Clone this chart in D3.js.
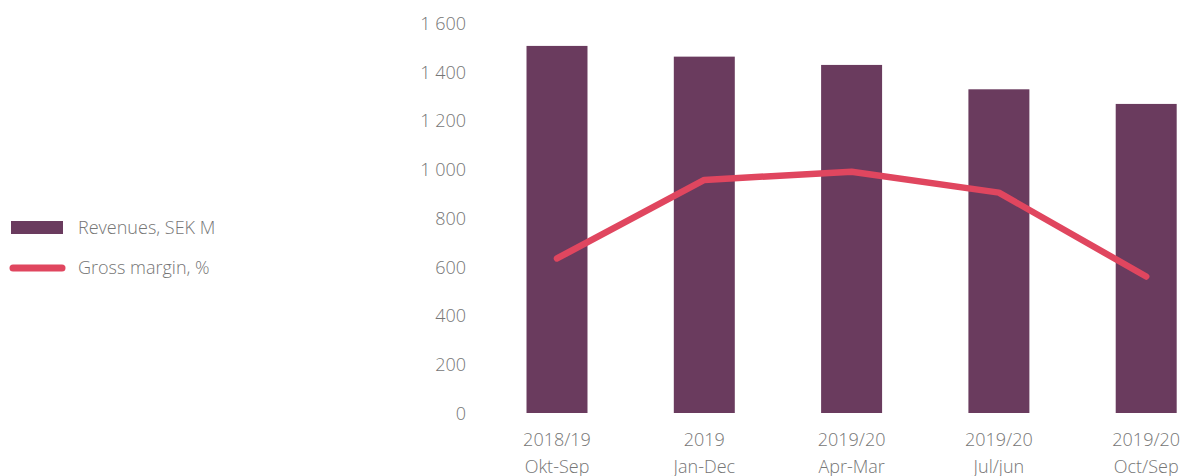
<!DOCTYPE html>
<html>
<head>
<meta charset="utf-8">
<script src="https://cdn.jsdelivr.net/npm/d3@7"></script>
<style>
  html, body { margin: 0; padding: 0; background: #fff; }
  svg { display: block; }
  text { font-family: "Open Sans", sans-serif; font-weight: 300; fill: #767676; }
</style>
</head>
<body>
<svg id="chart" width="1189" height="476"></svg>
<script>
const categories = [["2018/19", "Okt-Sep"], ["2019", "Jan-Dec"], ["2019/20", "Apr-Mar"], ["2019/20", "Jul/jun"], ["2019/20", "Oct/Sep"]];
const revenues = [1506, 1462, 1428, 1328, 1268];
const grossMargin = [31.7, 47.8, 49.5, 45.2, 28.0];
const yTicks = [0, 200, 400, 600, 800, 1000, 1200, 1400, 1600];
const seriesNames = ["Revenues, SEK M", "Gross margin, %"];

const barColor = "#6a3b5e";
const lineColor = "#e0465f";

const svg = d3.select("#chart");
const W = 1189, H = 476;

const keys = categories.map((c, i) => i);
const x = d3.scaleBand().domain(keys).range([483.35, 1219.85]).paddingInner(0.586).paddingOuter(0.293);
const y = d3.scaleLinear().domain([0, 1600]).range([413, 23]);
const y2 = d3.scaleLinear().domain([0, 80]).range([413, 23]);

const locale = d3.formatLocale({ decimal: ",", thousands: " ", grouping: [3], currency: ["", ""] });
const fmt = locale.format(",d");

// Y axis labels (no line, no ticks)
const yAxis = d3.axisLeft(y).tickValues(yTicks).tickFormat(fmt).tickSize(0).tickPadding(0);
const yg = svg.append("g").attr("transform", "translate(466,0)").call(yAxis);
yg.select(".domain").remove();
yg.selectAll("text").attr("font-size", 18).attr("font-family", null).attr("fill", null).attr("dy", "0.35em");

// Bars
svg.append("g").selectAll("rect").data(revenues).join("rect")
  .attr("x", (d, i) => x(i))
  .attr("width", x.bandwidth())
  .attr("y", d => y(d))
  .attr("height", d => y(0) - y(d))
  .attr("fill", barColor);

// Line
const line = d3.line().x((d, i) => x(i) + x.bandwidth() / 2).y(d => y2(d));
svg.append("path").datum(grossMargin)
  .attr("d", line)
  .attr("fill", "none")
  .attr("stroke", lineColor)
  .attr("stroke-width", 6.5)
  .attr("stroke-linecap", "round")
  .attr("stroke-linejoin", "round");

// X axis labels
const xAxis = d3.axisBottom(x).tickSize(0).tickFormat(() => "");
const xg = svg.append("g").attr("transform", "translate(0,413)").call(xAxis);
xg.select(".domain").remove();
xg.selectAll(".tick").each(function(d) {
  const t = d3.select(this).append("text").attr("text-anchor", "middle").attr("font-size", 18);
  t.append("tspan").attr("x", 0).attr("y", 33).text(categories[d][0]);
  t.append("tspan").attr("x", 0).attr("y", 60).text(categories[d][1]);
});

// Legend
const lg = svg.append("g");
lg.append("rect").attr("x", 11).attr("y", 221).attr("width", 52).attr("height", 13).attr("fill", barColor);
lg.append("text").attr("x", 78).attr("y", 228).attr("dy", "0.35em").attr("font-size", 18).text(seriesNames[0]);
lg.append("line").attr("x1", 13).attr("x2", 62).attr("y1", 268).attr("y2", 268)
  .attr("stroke", lineColor).attr("stroke-width", 7).attr("stroke-linecap", "round");
lg.append("text").attr("x", 78).attr("y", 268).attr("dy", "0.35em").attr("font-size", 18).text(seriesNames[1]);
</script>
</body>
</html>
